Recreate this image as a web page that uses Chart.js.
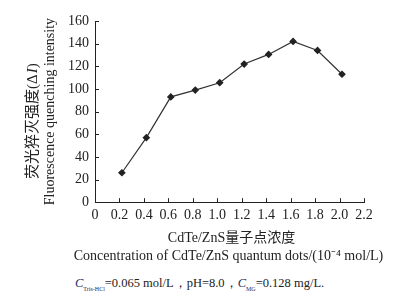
<!DOCTYPE html>
<html>
<head>
<meta charset="utf-8">
<script src="https://cdn.jsdelivr.net/npm/chart.js@4"></script>
<style>
  html, body { margin: 0; padding: 0; background: #fff; }
  #wrap { position: relative; width: 394px; height: 270px; }
  #note {
    position: absolute; left: 75px; top: 275px;
    font-family: "Liberation Serif", serif; font-size: 12.5px; color: #222;
    white-space: nowrap;
  }
  #note i { color: #1c2a5a; }
  #note sub { font-size: 6px; color: #1c2a5a; }
</style>
</head>
<body>
<div id="wrap"><canvas id="chart" width="394" height="270"></canvas></div>
<div id="note"><i>C</i><sub>Tris-HCl</sub>=0.065 mol/L，pH=8.0，<i>C</i><sub>MG</sub>=0.128 mg/L.</div>
<script>
const concentrations = [0.22, 0.42, 0.62, 0.82, 1.02, 1.22, 1.42, 1.62, 1.82, 2.02];
const quenching = [26, 57, 93, 99, 105.5, 122, 130.5, 142, 134, 113];
const yTitleCn = ["荧光猝灭强度(Δ", "I", ")"];   // the I is italic
const yTitleEn = "Fluorescence quenching intensity";
const xTitle = ["CdTe/ZnS量子点浓度", "Concentration of CdTe/ZnS quantum dots/(10⁻⁴ mol/L)"];

const serif = "'Liberation Serif', 'Noto Sans CJK SC', serif";

// ticks drawn inside the plot, like the original figure
const inwardTicks = {
  id: 'inwardTicks',
  afterDraw(chart) {
    const { ctx, chartArea, scales } = chart;
    ctx.save();
    ctx.strokeStyle = '#222';
    ctx.lineWidth = 1;
    ctx.beginPath();
    scales.x.ticks.forEach(t => {
      if (t.value === 0) return;
      const px = Math.round(scales.x.getPixelForValue(t.value)) + 0.5;
      ctx.moveTo(px, chartArea.bottom);
      ctx.lineTo(px, chartArea.bottom - 4);
    });
    scales.y.ticks.forEach(t => {
      if (t.value === 0) return;
      const py = Math.round(scales.y.getPixelForValue(t.value)) + 0.5;
      ctx.moveTo(chartArea.left, py);
      ctx.lineTo(chartArea.left + 4, py);
    });
    ctx.stroke();
    ctx.restore();
  }
};

// axis titles, drawn by hand so the long lines are not squeezed
const axisTitles = {
  id: 'axisTitles',
  afterDraw(chart) {
    const { ctx, chartArea: a } = chart;
    const cx = (a.left + a.right) / 2;
    const cy = (a.top + a.bottom) / 2;
    ctx.save();
    ctx.fillStyle = '#222';
    ctx.textBaseline = 'middle';
    ctx.textAlign = 'center';
    ctx.font = "14px " + serif;
    ctx.fillText(xTitle[0], cx + 2, a.bottom + 36);
    ctx.fillText(xTitle[1], cx - 1, a.bottom + 54);

    // y title: two rotated lines
    ctx.translate(a.left - 45, cy);
    ctx.rotate(-Math.PI / 2);
    ctx.fillText(yTitleEn, 0, 0);
    ctx.translate(-10, -17);
    const fonts = ["15px " + serif, "italic 15px " + serif, "15px " + serif];
    const widths = yTitleCn.map((s, i) => { ctx.font = fonts[i]; return ctx.measureText(s).width; });
    let x = -widths.reduce((p, w) => p + w, 0) / 2;
    ctx.textAlign = 'left';
    yTitleCn.forEach((s, i) => {
      ctx.font = fonts[i];
      ctx.fillText(s, x, 0);
      x += widths[i] + (i === 0 ? 1 : 0);
    });
    ctx.restore();
  }
};

new Chart(document.getElementById("chart"), {
  type: 'line',
  data: {
    datasets: [{
      data: concentrations.map((c, i) => ({ x: c, y: quenching[i] })),
      borderColor: '#333',
      borderWidth: 1.2,
      pointStyle: 'rectRot',
      pointRadius: 3,
      pointBackgroundColor: '#222',
      pointBorderColor: '#222',
      tension: 0
    }]
  },
  options: {
    responsive: false,
    animation: false,
    layout: { padding: { left: 62, right: 30, top: 21, bottom: 41 } },
    plugins: { legend: { display: false }, tooltip: { enabled: false } },
    scales: {
      x: {
        type: 'linear',
        min: 0, max: 2.2,
        grid: { display: false, drawTicks: false },
        border: { display: true, color: '#222', width: 1 },
        ticks: {
          stepSize: 0.2, padding: 5, color: '#222', maxRotation: 0,
          font: { family: serif, size: 14 },
          callback: v => v === 0 ? '0' : v.toFixed(1)
        }
      },
      y: {
        min: 0, max: 160,
        grid: { display: false, drawTicks: false },
        border: { display: true, color: '#222', width: 1 },
        ticks: {
          stepSize: 20, padding: 6, color: '#222',
          font: { family: serif, size: 14 }
        }
      }
    }
  },
  plugins: [inwardTicks, axisTitles]
});
</script>
</body>
</html>
